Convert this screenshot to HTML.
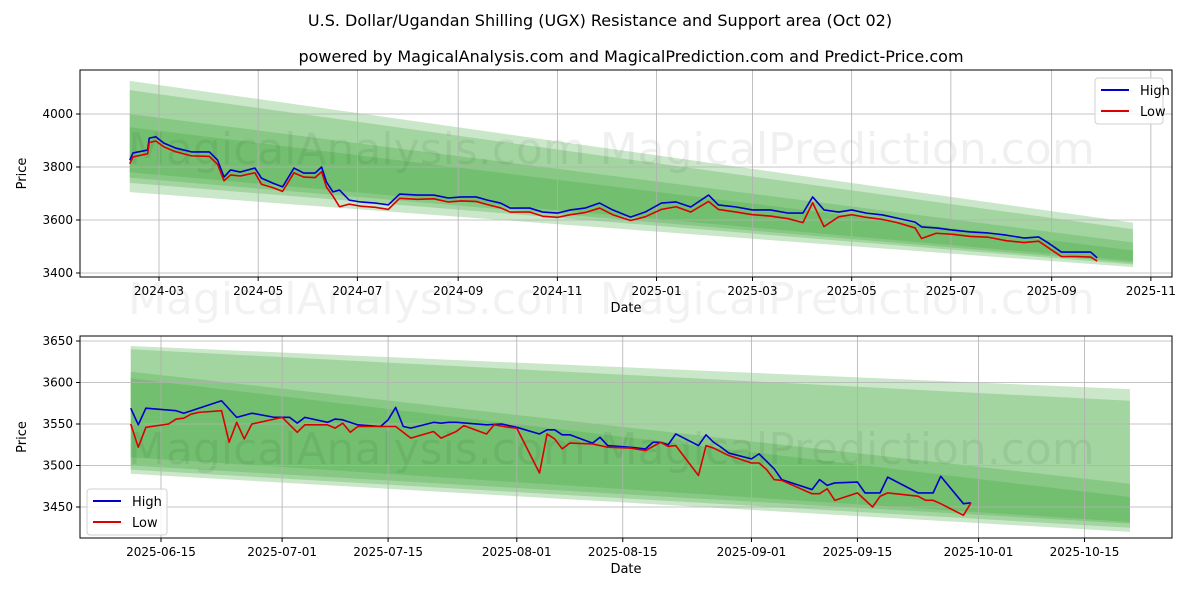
<!DOCTYPE html>
<html><head><meta charset="utf-8"><style>
body{margin:0;background:#fff;width:1200px;height:600px;overflow:hidden}
svg text{font-family:"DejaVu Sans","Liberation Sans",sans-serif}
</style></head><body>
<svg id="fig" width="1200" height="600" xmlns="http://www.w3.org/2000/svg">
<rect width="1200" height="600" fill="#fff"/>
<text x="600" y="26" font-size="16" text-anchor="middle">U.S. Dollar/Ugandan Shilling (UGX) Resistance and Support area (Oct 02)</text>
<text x="631" y="62" font-size="16" text-anchor="middle">powered by MagicalAnalysis.com and MagicalPrediction.com and Predict-Price.com</text>
<g id="top"></g>
<g id="bot"></g>
</svg>
<script>
// ---- top chart data (day offsets from 2024-03-01) ----
const topDays=[-18,-16,-7,-6,-2,3,10,20,31,36,40,44,50,59,63,70,76,83,89,96,100,103,107,111,117,124,133,141,148,159,169,178,186,195,202,210,216,228,236,245,253,262,271,279,290,299,309,318,327,338,344,355,365,376,387,396,402,409,418,426,435,445,454,465,469,478,488,499,510,521,532,541,547,555,564,573,577];
const topHigh=[3826,3853,3864,3909,3914,3890,3872,3857,3857,3826,3762,3789,3781,3796,3758,3739,3725,3796,3777,3777,3800,3743,3706,3713,3675,3668,3664,3657,3698,3694,3694,3683,3687,3687,3675,3664,3645,3645,3630,3626,3638,3645,3664,3638,3611,3630,3664,3668,3649,3694,3657,3649,3638,3638,3626,3626,3687,3638,3630,3638,3626,3619,3607,3592,3574,3570,3562,3555,3551,3543,3532,3536,3513,3479,3479,3479,3457];
const topLow=[3812,3838,3850,3892,3898,3876,3858,3842,3840,3810,3748,3770,3766,3778,3735,3722,3708,3778,3762,3760,3782,3724,3690,3650,3660,3652,3648,3640,3682,3678,3680,3668,3672,3670,3658,3646,3630,3630,3614,3610,3620,3628,3645,3620,3598,3612,3640,3650,3630,3670,3640,3630,3620,3615,3605,3590,3665,3575,3612,3620,3610,3602,3590,3570,3530,3550,3546,3538,3535,3522,3515,3520,3495,3462,3462,3460,3445];
const topTicksY=[3400,3600,3800,4000];
const topTickLabelsX=["2024-03","2024-05","2024-07","2024-09","2024-11","2025-01","2025-03","2025-05","2025-07","2025-09","2025-11"];
const topTickDaysX=[0,61,122,184,245,306,365,426,487,549,610];
const topBandStart=-18, topBandEnd=599;
const topBands=[[4125,3705,3590,3422],[4090,3740,3565,3432],[4000,3760,3515,3438],[3950,3780,3485,3445]];
// ---- bottom chart data (day offsets from 2025-06-15) ----
const botHighDays=[-4,-3,-2,2,3,8,10,12,15,17,18,19,22,23,24,26,29,30,31,32,33,36,37,38,39,43,45,47,50,51,52,53,54,57,58,59,62,64,65,66,67,68,71,72,73,74,75,78,79,81,82,86,87,88,89,92,93,95,96,100,102,103,106,107];
const botHigh=[3569,3549,3569,3566,3563,3578,3558,3563,3558,3558,3551,3558,3552,3556,3555,3549,3547,3555,3570,3547,3545,3552,3551,3552,3552,3549,3550,3546,3538,3543,3543,3537,3537,3527,3534,3524,3522,3520,3528,3528,3525,3538,3524,3537,3528,3522,3515,3508,3514,3496,3483,3471,3483,3476,3479,3480,3467,3467,3486,3467,3467,3487,3454,3455];
const botLowDays=[-4,-3,-2,1,2,3,4,5,8,9,10,11,12,16,18,19,22,23,24,25,26,31,33,36,37,39,40,43,44,46,47,50,51,52,53,54,57,59,62,64,66,67,68,71,72,73,75,78,79,80,81,82,86,87,88,89,92,94,95,96,100,101,102,103,106,107];
const botLow=[3550,3522,3546,3550,3556,3557,3562,3564,3566,3528,3552,3532,3550,3558,3540,3549,3549,3545,3551,3540,3547,3547,3533,3541,3533,3541,3548,3538,3549,3546,3545,3491,3538,3532,3520,3527,3526,3522,3521,3518,3528,3523,3524,3488,3524,3521,3512,3503,3503,3495,3483,3482,3466,3466,3472,3458,3467,3450,3463,3467,3463,3458,3458,3454,3440,3455];
const botTicksY=[3450,3500,3550,3600,3650];
const botTickLabelsX=["2025-06-15","2025-07-01","2025-07-15","2025-08-01","2025-08-15","2025-09-01","2025-09-15","2025-10-01","2025-10-15"];
const botTickDaysX=[0,16,30,47,61,78,92,108,122];
const botBandStart=-4, botBandEnd=128;
const botBands=[[3644,3490,3592,3420],[3640,3495,3578,3425],[3613,3500,3478,3430],[3605,3510,3462,3432]];

const NS="http://www.w3.org/2000/svg";
function mk(parent,tag,attrs,text){const e=document.createElementNS(NS,tag);for(const k in attrs)e.setAttribute(k,attrs[k]);if(text!==undefined)e.textContent=text;parent.appendChild(e);return e;}

function drawChart(g,cfg){
  const X0=80,X1=1172,Y0=cfg.y0,Y1=cfg.y1;
  const xs=d=>cfg.xa+d*cfg.xk, ys=v=>cfg.ya+(cfg.yv-v)*cfg.yk;
  // bands
  cfg.bands.forEach((b,i)=>{
    const p=mk(g,'polygon',{points:`${xs(cfg.bs)},${ys(b[0])} ${xs(cfg.be)},${ys(b[2])} ${xs(cfg.be)},${ys(b[3])} ${xs(cfg.bs)},${ys(b[1])}`,fill:'rgb(60,165,55)','fill-opacity':0.27});
    
    
  });
  // watermark
  const wm=mk(g,'text',{x:cfg.wmx,y:cfg.wmy,'font-size':44,fill:'#000','fill-opacity':0.06},'MagicalAnalysis.com    MagicalPrediction.com');
  
  
  // grid + ticks
  cfg.tdx.forEach((d,i)=>{const x=xs(d);
    mk(g,'line',{x1:x,x2:x,y1:Y0,y2:Y1,stroke:'#b0b0b0','stroke-width':0.8});
    mk(g,'line',{x1:x,x2:x,y1:Y1,y2:Y1+4,stroke:'#000'});
    const t=mk(g,'text',{x:x,y:Y1+18,'font-size':12,'text-anchor':'middle'},cfg.tlx[i]);
    
    
  });
  cfg.ty.forEach(v=>{const y=ys(v);
    mk(g,'line',{x1:X0,x2:X1,y1:y,y2:y,stroke:'#b0b0b0','stroke-width':0.8});
    mk(g,'line',{x1:X0-4,x2:X0,y1:y,y2:y,stroke:'#000'});
    const t=mk(g,'text',{x:X0-7,y:y+4,'font-size':12,'text-anchor':'end'},String(v));
    
    
  });
  // series
  const line=(days,vals,col,name)=>{const p=mk(g,'polyline',{points:days.map((d,i)=>xs(d)+','+ys(vals[i])).join(' '),fill:'none',stroke:col,'stroke-width':1.6,'stroke-linejoin':'round'});
    
    };
  line(cfg.hd,cfg.hv,'#0000cc','high-line');
  line(cfg.ld,cfg.lv,'#dd0000','low-line');
  mk(g,'rect',{x:X0,y:Y0,width:X1-X0,height:Y1-Y0,fill:'none',stroke:'#000','stroke-width':1});
  const xl=mk(g,'text',{x:626,y:Y1+35,'font-size':13,'text-anchor':'middle'},'Date');
  
  
  const yl=mk(g,'text',{x:26,y:(Y0+Y1)/2,'font-size':13,'text-anchor':'middle',transform:`rotate(-90 26 ${(Y0+Y1)/2})`},'Price');
  
  
  // legend
  const L=mk(g,'g',{});
  
  
  const lx=cfg.lx,ly=cfg.ly;
  mk(L,'rect',{x:lx,y:ly,width:cfg.lw,height:46,rx:3,fill:'#fff','fill-opacity':0.85,stroke:'#d0d0d0'});
  mk(L,'line',{x1:lx+6,x2:lx+34,y1:ly+12,y2:ly+12,stroke:'#0000cc','stroke-width':2});
  mk(L,'line',{x1:lx+6,x2:lx+34,y1:ly+33,y2:ly+33,stroke:'#dd0000','stroke-width':2});
  mk(L,'text',{x:lx+45,y:ly+17,'font-size':13},'High');
  mk(L,'text',{x:lx+45,y:ly+38,'font-size':13},'Low');
}
drawChart(document.getElementById('top'),{y0:70,y1:277,xa:159,xk:1.626,ya:114,yv:4000,yk:53/200,
  bands:topBands,bs:topBandStart,be:topBandEnd,tdx:topTickDaysX,tlx:topTickLabelsX,ty:topTicksY,
  hd:topDays,hv:topHigh,ld:topDays,lv:topLow,lx:1095,ly:78,lw:68,wmx:128,wmy:164});
drawChart(document.getElementById('bot'),{y0:336,y1:538,xa:161,xk:7.57,ya:341,yv:3650,yk:0.83,
  bands:botBands,bs:botBandStart,be:botBandEnd,tdx:botTickDaysX,tlx:botTickLabelsX,ty:botTicksY,
  hd:botHighDays,hv:botHigh,ld:botLowDays,lv:botLow,lx:87,ly:489,lw:80,wmx:128,wmy:464});
const wm2=mk(document.getElementById('fig'),'text',{x:128,y:314,'font-size':44,fill:'#000','fill-opacity':0.05},'MagicalAnalysis.com    MagicalPrediction.com');


</script>
</body></html>
